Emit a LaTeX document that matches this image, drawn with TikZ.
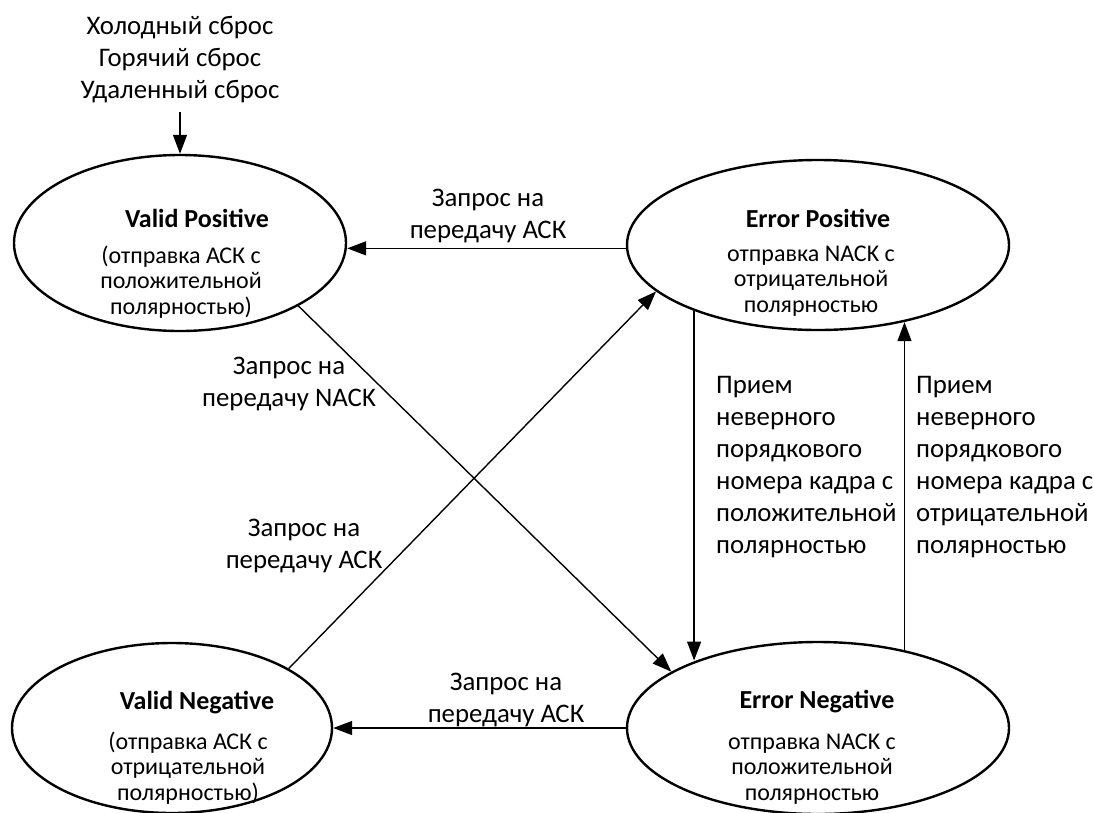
\documentclass[tikz,border=0pt]{standalone}
\usepackage{fontspec}
\setmainfont{Carlito}
\usetikzlibrary{shapes.geometric,arrows.meta}

\tikzset{
  state/.style={draw, ellipse, line width=2.4pt, inner sep=0pt},
  title/.style={font=\fontsize{26}{30}\selectfont\bfseries},
  body/.style={font=\fontsize{24}{25.5}\selectfont, align=center, inner sep=0pt},
  lbl/.style={font=\fontsize{26.8}{32}\selectfont, align=center, inner sep=0pt},
  sidelbl/.style={font=\fontsize{26.8}{32}\selectfont, align=left, inner sep=0pt, anchor=west},
  conn/.style={line width=1.4pt, -{Triangle[length=19pt,width=14pt]}},
}

\begin{document}
\begin{tikzpicture}[x=1pt,y=-1pt]
\useasboundingbox (0,0) rectangle (1094,812);

% states
\node[state, minimum width=332pt, minimum height=176pt] (vp) at (180,243) {};
\node[state, minimum width=382pt, minimum height=170pt] (ep) at (818,245) {};
\node[state, minimum width=320pt, minimum height=170pt] (vn) at (172,728) {};
\node[state, minimum width=382pt, minimum height=172pt] (en) at (818,728) {};

% state texts
\node[title] (vpt) at (197,218) {Valid Positive};
\node[body]  (vpb) at (181,282) {(отправка АСК с\\положительной\\полярностью)};
\node[title] (ept) at (818,218) {Error Positive};
\node[body]  (epb) at (811,281) {отправка NACK с\\отрицательной\\полярностью};
\node[title] (vnt) at (197,703) {Valid Negative};
\node[body]  (vnb) at (188,768) {(отправка АСК с\\отрицательной\\полярностью)};
\node[title] (ent) at (817,702) {Error Negative};
\node[body]  (enb) at (812,769) {отправка NACK с\\положительной\\полярностью};

% reset sources
\node[lbl] (reset) at (180,60) {Холодный сброс\\Горячий сброс\\Удаленный сброс};
\draw[conn] (reset.south) ++(0,8) coordinate (rs) (rs) -- (vp.north);

% transitions
\draw[conn] (ep.181.2) -- (ep.181.2 -| vp.east);
\draw[conn] (en.west) -- (en.west -| vn.east);
\draw[conn] (vp.-28.2) -- (en.159.6);
\draw[conn] (vn.27.3) -- (ep.196.9);
\draw[conn] (ep.208.5) -- (ep.208.5 |- en.151.2);
\draw[conn] (en.42.6) -- (en.42.6 |- ep.-42.2);

% transition labels
\node[lbl] (l1) at (488,216) {Запрос на\\передачу АСК};
\node[lbl] (l2) at (289,384) {Запрос на\\передачу NACK};
\node[lbl] (l3) at (304,546) {Запрос на\\передачу АСК};
\node[lbl] (l4) at (506,700) {Запрос на\\передачу АСК};
\node[sidelbl] (l5) at (716,467) {Прием\\неверного\\порядкового\\номера кадра с\\положительной\\полярностью};
\node[sidelbl] (l6) at (916,467) {Прием\\неверного\\порядкового\\номера кадра с\\отрицательной\\полярностью};
\end{tikzpicture}
\end{document}
